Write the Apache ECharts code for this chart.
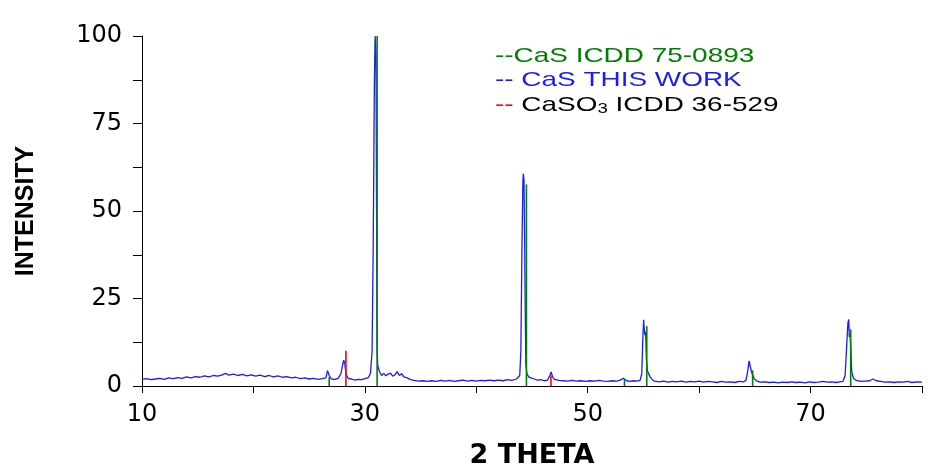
<!doctype html>
<html lang="en">
<head>
    <meta charset="UTF-8">
    <title>XRD CaS</title>
    <script src="https://cdn.jsdelivr.net/npm/echarts@6/dist/echarts.min.js"></script>
    <style>
        body { margin: 0; background: #fff; }
    </style>
</head>
<body>

<div id="chart" style="width: 928px;height: 466px;"></div>
<script type="text/javascript">
    // measured pattern (2 theta, intensity)
    const casThisWork = [
        [10.0, 1.9], [10.4, 2.1], [10.8, 1.8], [11.2, 2.0], [11.6, 2.2], [12.0, 1.9], [12.4, 2.3],
        [12.8, 2.1], [13.2, 2.4], [13.6, 2.2], [14.0, 2.6], [14.4, 2.3], [14.8, 2.7], [15.2, 2.5],
        [15.6, 2.9], [16.0, 2.6], [16.4, 3.0], [16.8, 2.8], [17.2, 3.2], [17.5, 3.6], [17.8, 3.1],
        [18.2, 3.4], [18.6, 3.0], [19.0, 3.3], [19.4, 2.9], [19.8, 3.2], [20.2, 2.8], [20.6, 3.1],
        [21.0, 2.7], [21.4, 3.0], [21.8, 2.6], [22.2, 2.9], [22.6, 2.5], [23.0, 2.7], [23.4, 2.3],
        [23.8, 2.5], [24.2, 2.1], [24.6, 2.3], [25.0, 2.0], [25.4, 2.2], [25.8, 1.9], [26.2, 2.1],
        [26.5, 2.3], [26.65, 4.4], [26.8, 3.0], [27.0, 2.0], [27.3, 1.9], [27.6, 2.2], [27.85, 3.5],
        [28.0, 6.0], [28.1, 7.4], [28.2, 6.5], [28.3, 3.5], [28.5, 2.2], [28.8, 2.0], [29.1, 1.7],
        [29.4, 1.9], [29.7, 1.8], [30.0, 2.1], [30.3, 2.4], [30.5, 3.5], [30.65, 10], [30.75, 40],
        [30.85, 85], [30.92, 100], [31.0, 95], [31.05, 50], [31.1, 12], [31.15, 6.0], [31.3, 4.2],
        [31.5, 3.0], [31.7, 3.6], [31.9, 2.9], [32.1, 3.4], [32.3, 3.7], [32.5, 2.8], [32.7, 3.2],
        [32.9, 4.1], [33.1, 3.0], [33.3, 3.5], [33.5, 2.6], [33.8, 2.3], [34.1, 1.8], [34.4, 1.6],
        [34.8, 1.4], [35.2, 1.5], [35.6, 1.3], [36.0, 1.5], [36.4, 1.3], [36.8, 1.6], [37.2, 1.4],
        [37.6, 1.6], [38.0, 1.3], [38.4, 1.5], [38.8, 1.7], [39.2, 1.4], [39.6, 1.6], [40.0, 1.4],
        [40.4, 1.6], [40.8, 1.5], [41.2, 1.7], [41.6, 1.5], [42.0, 1.7], [42.4, 1.5], [42.8, 1.8],
        [43.2, 1.6], [43.6, 2.0], [43.9, 3.0], [44.0, 10], [44.1, 40], [44.18, 58], [44.22, 60.6],
        [44.28, 59], [44.33, 45], [44.4, 20], [44.45, 6], [44.55, 3.5], [44.7, 2.6], [44.9, 2.3],
        [45.2, 2.0], [45.5, 1.7], [45.8, 1.8], [46.1, 1.5], [46.4, 1.7], [46.6, 3.0], [46.72, 4.0],
        [46.85, 2.6], [47.0, 1.9], [47.4, 1.6], [47.8, 1.5], [48.2, 1.4], [48.6, 1.6], [49.0, 1.4],
        [49.4, 1.5], [49.8, 1.3], [50.2, 1.5], [50.6, 1.4], [51.0, 1.6], [51.4, 1.4], [51.8, 1.3],
        [52.2, 1.5], [52.6, 1.4], [52.9, 1.7], [53.2, 2.2], [53.5, 1.5], [53.8, 1.3], [54.1, 1.5],
        [54.4, 1.4], [54.7, 1.6], [54.85, 3.5], [54.95, 14], [55.02, 18.9], [55.08, 16], [55.14, 14.5],
        [55.2, 15.5], [55.26, 8], [55.35, 4.5], [55.45, 3.6], [55.6, 2.6], [55.8, 1.8], [56.0, 1.4],
        [56.4, 1.2], [56.8, 1.4], [57.2, 1.1], [57.6, 1.3], [58.0, 1.2], [58.4, 1.4], [58.8, 1.1],
        [59.2, 1.3], [59.6, 1.2], [60.0, 1.4], [60.4, 1.1], [60.8, 1.3], [61.2, 1.2], [61.6, 1.0],
        [62.0, 1.3], [62.4, 1.1], [62.8, 1.2], [63.2, 1.0], [63.6, 1.3], [64.0, 1.2], [64.2, 1.6],
        [64.35, 4.0], [64.48, 7.2], [64.58, 6.8], [64.7, 4.0], [64.8, 3.6], [64.95, 2.0], [65.2, 1.4],
        [65.5, 1.1], [65.9, 1.2], [66.3, 1.0], [66.7, 1.1], [67.1, 0.9], [67.5, 1.1], [67.9, 1.0],
        [68.3, 1.2], [68.7, 1.0], [69.1, 1.1], [69.5, 0.9], [69.9, 1.2], [70.3, 1.0], [70.7, 1.1],
        [71.1, 1.3], [71.5, 1.1], [71.9, 1.2], [72.3, 1.0], [72.6, 1.2], [72.9, 1.3], [73.1, 3.0],
        [73.25, 12], [73.35, 18], [73.42, 19], [73.48, 14], [73.55, 15], [73.6, 11], [73.7, 4],
        [73.85, 2.2], [74.1, 1.6], [74.5, 1.3], [74.9, 1.4], [75.3, 1.5], [75.6, 2.0], [75.9, 1.5],
        [76.3, 1.3], [76.7, 1.1], [77.1, 1.2], [77.5, 1.0], [77.9, 1.2], [78.3, 1.1], [78.7, 1.3],
        [79.1, 1.0], [79.5, 1.2], [80.0, 1.1]
    ];
    // reference sticks (2 theta, intensity)
    const casIcdd = [[26.8, 2.6], [31.1, 100], [44.5, 57.6], [53.3, 1.8], [55.3, 17.1], [64.8, 4.5], [73.6, 16.2]];
    const caso3Icdd = [[28.3, 10.1], [46.7, 3.0]];

    const xTicks = {min: 10, max: 80, interval: 10};
    const yTicks = {min: 0, max: 100, interval: 12.5};

    function stickSeries(name, data, color) {
        return {
            name: name,
            type: 'custom',
            data: data,
            encode: {x: 0, y: 1},
            z: 3,
            renderItem: function (params, api) {
                let p0 = api.coord([api.value(0), 0]);
                let p1 = api.coord([api.value(0), api.value(1)]);
                return {
                    type: 'line',
                    shape: {x1: p0[0], y1: p0[1], x2: p1[0], y2: p1[1]},
                    style: {stroke: color, lineWidth: 1.6}
                };
            }
        };
    }

    let chart = echarts.init(document.getElementById("chart"));
    chart.setOption({
        animation: false,
        grid: {left: 142, right: 6, top: 36, bottom: 80, outerBoundsMode: 'none'},
        xAxis: {
            type: 'value',
            min: xTicks.min, max: xTicks.max, interval: xTicks.interval,
            name: '2 THETA',
            nameLocation: 'middle',
            nameGap: 56,
            nameTextStyle: {fontFamily: 'DejaVu Sans', fontWeight: 'bold', fontSize: 27, color: '#000'},
            axisLine: {lineStyle: {color: '#000', width: 1}},
            axisTick: {length: 7, lineStyle: {color: '#000'}},
            splitLine: {show: false},
            axisLabel: {
                margin: 17,
                fontFamily: 'DejaVu Sans', fontSize: 24, color: '#000',
                formatter: function (v) { return (v - 10) % 20 === 0 ? String(v) : ''; }
            }
        },
        yAxis: {
            type: 'value',
            min: yTicks.min, max: yTicks.max, interval: yTicks.interval,
            name: 'INTENSITY',
            nameLocation: 'middle',
            nameGap: 103,
            nameTextStyle: {fontFamily: 'Liberation Sans', fontWeight: 'bold', fontSize: 25, color: '#000'},
            axisLine: {show: true, lineStyle: {color: '#000', width: 1}},
            axisTick: {show: true, length: 9, lineStyle: {color: '#000'}},
            splitLine: {show: false},
            axisLabel: {
                margin: 20,
                fontFamily: 'DejaVu Sans', fontSize: 24, color: '#000',
                formatter: function (v) { return v % 25 === 0 ? String(v) : ''; }
            }
        },
        graphic: [
            {
                type: 'text', x: 495, y: 46, scaleX: 1.33,
                style: {text: '--CaS ICDD 75-0893', font: '21px "Liberation Sans"', fill: '#008000'}
            },
            {
                type: 'text', x: 495, y: 70, scaleX: 1.33,
                style: {text: '-- CaS THIS WORK', font: '21px "Liberation Sans"', fill: '#1a1aff'}
            },
            {
                type: 'text', x: 495, y: 94, scaleX: 1.33,
                style: {
                    text: '{r|-- }{k|CaSO}{s|3}{k| ICDD 36-529}',
                    font: '21px "Liberation Sans"',
                    rich: {
                        r: {fill: '#ff0000', fontSize: 21, fontFamily: 'Liberation Sans'},
                        k: {fill: '#000', fontSize: 21, fontFamily: 'Liberation Sans'},
                        s: {fill: '#000', fontSize: 14, fontFamily: 'Liberation Sans', verticalAlign: 'bottom', padding: [8, 0, 0, 0]}
                    }
                }
            }
        ],
        series: [
            {
                name: 'CaS THIS WORK',
                type: 'line',
                data: casThisWork,
                showSymbol: false,
                z: 2,
                lineStyle: {color: '#1a1aff', width: 1.3},
                itemStyle: {color: '#1a1aff'}
            },
            stickSeries('CaS ICDD 75-0893', casIcdd, '#008000'),
            stickSeries('CaSO3 ICDD 36-529', caso3Icdd, '#ff0000')
        ]
    });
</script>
</body>
</html>
